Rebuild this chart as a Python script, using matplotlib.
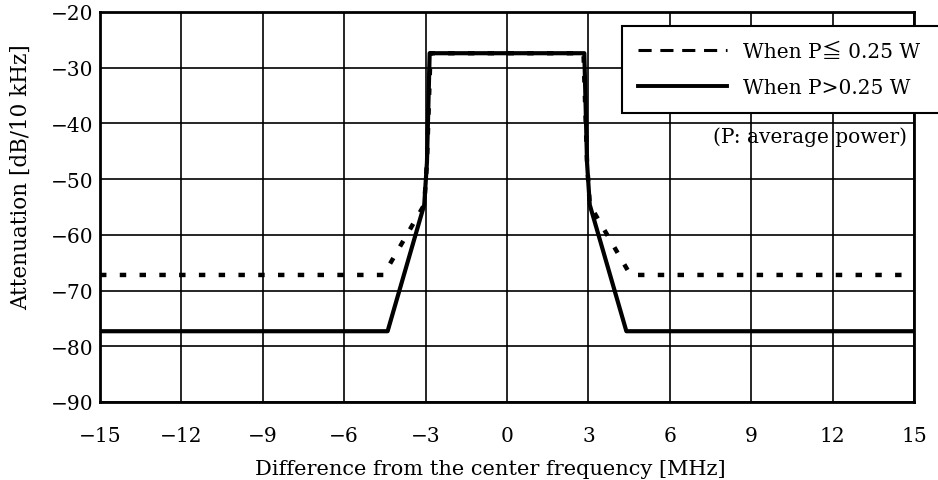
import matplotlib
matplotlib.use("Agg")
import matplotlib.pyplot as plt
from matplotlib.lines import Line2D

plt.rcParams['font.family'] = ['DejaVu Serif', 'Noto Sans CJK JP']
plt.rcParams['axes.unicode_minus'] = True

# mask for P <= 0.25 W (dotted)
low_x = [-15, -4.55, -3.05, -2.95, -2.82, 2.82, 2.95, 3.05, 4.55, 15]
low_y = [-67.2, -67.2, -54.6, -47.0, -27.4, -27.4, -47.0, -54.6, -67.2, -67.2]

# mask for P > 0.25 W (solid)
high_x = [-15, -4.4, -3.05, -2.95, -2.85, 2.85, 2.95, 3.05, 4.4, 15]
high_y = [-77.3, -77.3, -54.6, -47.0, -27.4, -27.4, -47.0, -54.6, -77.3, -77.3]

xticks = [-15, -12, -9, -6, -3, 0, 3, 6, 9, 12, 15]
yticks = [-90, -80, -70, -60, -50, -40, -30, -20]

FS = 14.5

fig = plt.figure(figsize=(9.38, 4.81), dpi=100)
ax = fig.add_axes([0.1066, 0.1622, 0.8678, 0.8108])

ax.plot(low_x, low_y, color='black', lw=3.2, linestyle=(0, (1.45, 3.0)), zorder=3)
ax.plot(high_x, high_y, color='black', lw=3.0, zorder=4)

ax.set_xlim(-15, 15)
ax.set_ylim(-90, -20)
ax.set_xticks(xticks)
ax.set_yticks(yticks)
ax.set_xticklabels([str(v).replace('-', '\u2212') for v in xticks])
ax.set_yticklabels([str(v).replace('-', '\u2212') for v in yticks])
ax.tick_params(length=0, labelsize=FS)
ax.tick_params(axis='x', pad=17)
ax.tick_params(axis='y', pad=5)
ax.grid(True, color='black', lw=1.2)
for s in ax.spines.values():
    s.set_linewidth(2)

ax.set_xlabel('Difference from the center frequency [MHz]', fontsize=15)
ax.set_ylabel('Attenuation [dB/10 kHz]', fontsize=15.5)
ax.xaxis.set_label_coords(0.48, -0.145)
ax.yaxis.set_label_coords(-0.083, 0.58)

ax.text(14.75, -42.3, '(P: average power)', ha='right', va='center', fontsize=FS, zorder=5)

handles = [Line2D([], [], color='black', lw=2.2, linestyle=(0, (4.3, 2.85))),
           Line2D([], [], color='black', lw=2.8)]
leg = fig.legend(handles, ['When P\u2266 0.25 W', 'When P>0.25 W'],
                 loc='upper left', bbox_to_anchor=(622 / 938, 1 - 110 / 481, 0.36, 83 / 481),
                 mode='expand', fontsize=FS, frameon=True, fancybox=False, framealpha=1,
                 edgecolor='black', handlelength=4.4, handletextpad=0.8,
                 borderpad=0.8, labelspacing=0.85, borderaxespad=0)
leg.get_frame().set_linewidth(1.5)

fig.savefig('out.png', dpi=100)
